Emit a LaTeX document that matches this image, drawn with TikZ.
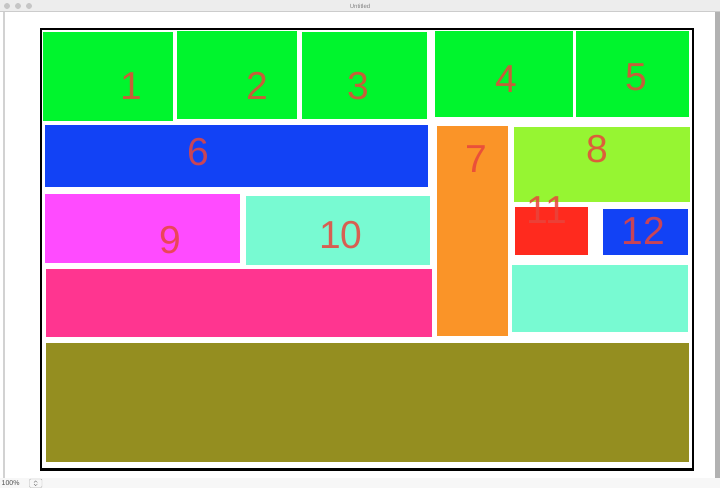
\documentclass[tikz,border=0pt]{standalone}
\usepackage{fontspec}
\setmainfont{Liberation Sans}
\definecolor{boxgreen}{HTML}{00F52D}
\definecolor{boxblue}{HTML}{1242F5}
\definecolor{boxorange}{HTML}{FA9428}
\definecolor{boxlime}{HTML}{96F532}
\definecolor{boxmagenta}{HTML}{FF4BFF}
\definecolor{boxaqua}{HTML}{78FAD2}
\definecolor{boxpink}{HTML}{FF3590}
\definecolor{boxred}{HTML}{FF2A1E}
\definecolor{boxolive}{HTML}{948E20}
\definecolor{numred}{HTML}{E8453C}
\definecolor{chrome}{HTML}{EDEDED}
\newcommand{\Block}[6]{
	\fill[#2] (#3,#4) rectangle (#5,#6);
	\coordinate (#1) at (#3,#4);
}
\tikzset{
	num/.style={font=\fontsize{39}{39}\selectfont, text=numred, text opacity=.85, inner sep=0pt},
	chromebit/.style={font=\fontsize{6}{6}\selectfont, text=gray, inner sep=0pt}
}

\begin{document}
\begin{tikzpicture}[x=1pt,y=-1pt]
		\useasboundingbox (0,0) rectangle (720,488);
		\fill[white] (0,0) rectangle (720,488);
		% window
		\fill[chrome] (0,0) rectangle (720,11.5);
		\draw[gray!40] (0,11.5) -- (720,11.5);
		\foreach \cx in {7,18,29}
			\fill[gray!45] (\cx,6) circle (3);
		\node[chromebit] (title) at (360,6) {Untitled};
		\fill[gray!35] (2.5,12) rectangle (4.5,478);
		\fill[gray!60] (715,12) rectangle (720,478);
		\fill[gray!6] (0,478) rectangle (720,488);
		\node[chromebit, font=\fontsize{7}{7}\selectfont, text=black!70, anchor=west] (zoom) at (1.5,483) {100\%};
		\draw[gray!60, rounded corners=1] (29.5,479) rectangle (42,487.5);
		\draw[gray] (34,482.5) -- (35.7,480.8) -- (37.4,482.5) (34,484) -- (35.7,485.7) -- (37.4,484);
		% blocks
		\Block{b1}{boxgreen}{42.7}{31.7}{172.7}{121}
		\Block{b2}{boxgreen}{177}{31}{297}{118.7}
		\Block{b3}{boxgreen}{301.7}{32.3}{427.3}{118.7}
		\Block{b4}{boxgreen}{435.3}{31}{572.7}{116.7}
		\Block{b5}{boxgreen}{576}{31}{689.3}{116.7}
		\Block{b6}{boxblue}{45}{125.3}{428.3}{186.7}
		\Block{b7}{boxorange}{437.3}{126}{508.3}{335.7}
		\Block{b8}{boxlime}{514}{127.3}{690}{201.7}
		\Block{b9}{boxmagenta}{45}{194}{240}{263.3}
		\Block{b10}{boxaqua}{246.3}{195.7}{430.3}{265}
		\Block{b11}{boxred}{515}{207.3}{587.7}{254.7}
		\Block{b12}{boxblue}{602.7}{209}{687.7}{255.3}
		\Block{b13}{boxaqua}{512.3}{265.3}{688.3}{332.3}
		\Block{b14}{boxpink}{45.7}{269.3}{432.3}{337.3}
		\Block{b15}{boxolive}{46}{343.3}{689.3}{461.7}
		% frame
		\draw[line width=2.5pt] (41.2,29.2) rectangle (692.8,469.6);
		% numbers
		\node[num] (n1) at (131,86) {1};
		\node[num] (n2) at (257,86) {2};
		\node[num] (n3) at (358,86) {3};
		\node[num] (n4) at (506,79) {4};
		\node[num] (n5) at (636,77) {5};
		\node[num] (n6) at (198,152) {6};
		\node[num] (n7) at (476,159) {7};
		\node[num] (n8) at (597,149) {8};
		\node[num] (n9) at (170,240) {9};
		\node[num] (n10) at (341,235) {10};
		\node[num] (n11) at (547,210) {11};
		\node[num] (n12) at (643,231) {12};
	\end{tikzpicture}
\end{document}
